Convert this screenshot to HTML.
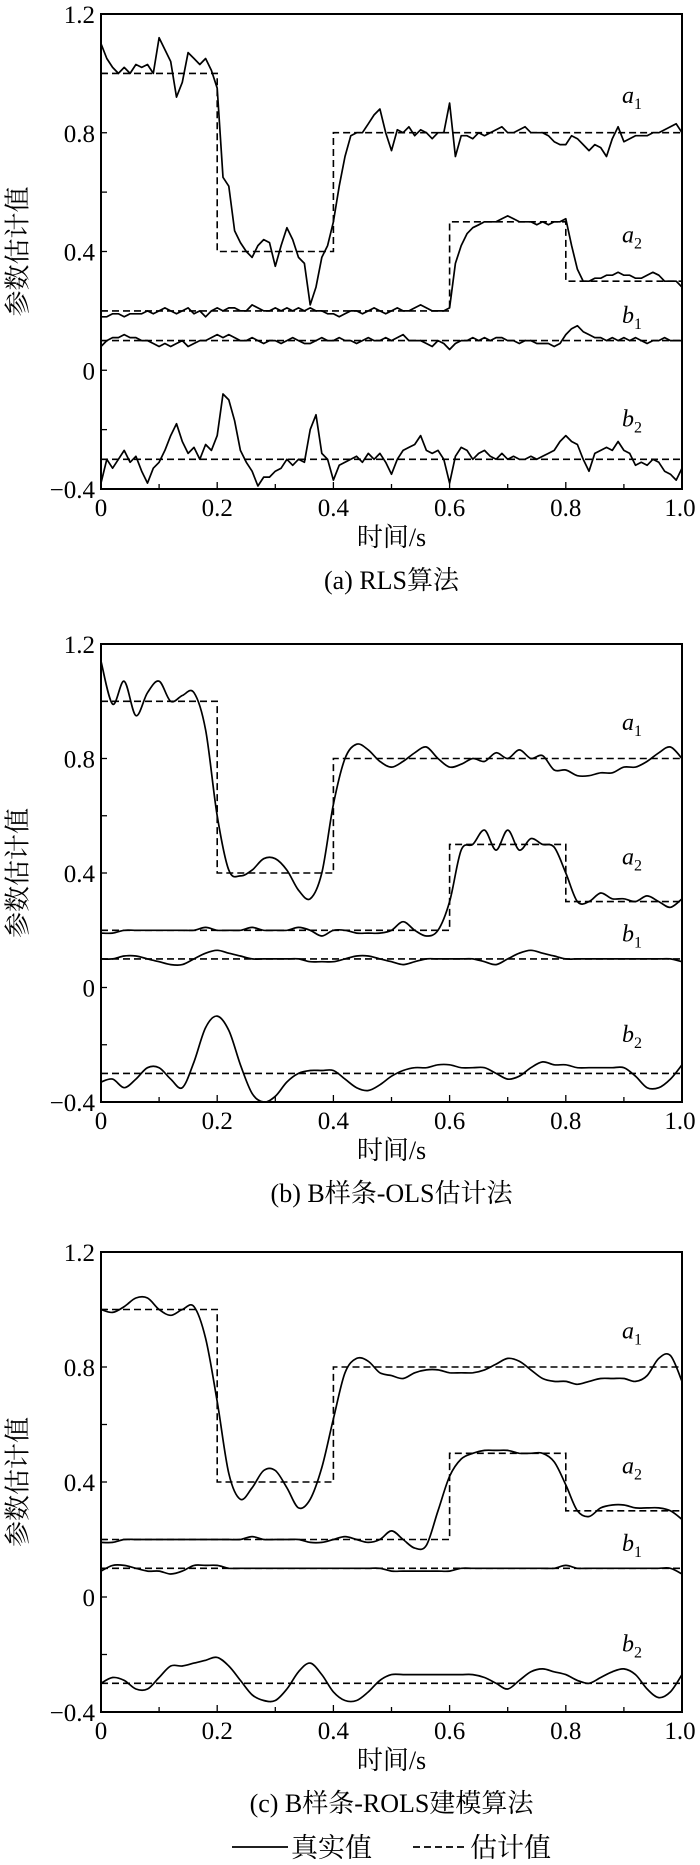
<!DOCTYPE html>
<html><head><meta charset="utf-8"><style>
html,body{margin:0;padding:0;background:#fff;}
svg{display:block;}
text{font-family:"Liberation Serif","Noto Serif CJK SC","Noto Sans CJK SC",serif;fill:#000;}
</style></head><body>
<svg id="chart" width="700" height="1865" viewBox="0 0 700 1865" xmlns="http://www.w3.org/2000/svg"></svg>
<script>
// ---------- data ----------
const xTicks = [0, 0.2, 0.4, 0.6, 0.8, 1.0];
const xTickLabels = ["0", "0.2", "0.4", "0.6", "0.8", "1.0"];
const yTicks = [1.2, 0.8, 0.4, 0, -0.4];
const yTickLabels = ["1.2", "0.8", "0.4", "0", "\u22120.4"];
const captions = ["(a) RLS算法", "(b) B样条-OLS估计法", "(c) B样条-ROLS建模算法"];
const refA1 = [[0,0.2,1.0],[0.2,0.4,0.4],[0.4,1.0,0.8]];
const refA2 = [[0,0.6,0.2],[0.6,0.8,0.5],[0.8,1.0,0.3]];
const refB1 = [[0,1.0,0.1]];
const refB2 = [[0,1.0,-0.3]];
const rlsA1 = [1.10,1.05,1.02,1.00,1.02,1.00,1.03,1.02,1.03,1.00,1.12,1.08,1.04,0.92,0.97,1.07,1.05,1.03,1.05,1.01,0.95,0.65,0.62,0.47,0.43,0.40,0.38,0.42,0.44,0.43,0.35,0.42,0.48,0.44,0.38,0.36,0.22,0.28,0.38,0.42,0.50,0.62,0.72,0.79,0.80,0.80,0.83,0.86,0.88,0.80,0.74,0.81,0.80,0.82,0.79,0.81,0.80,0.78,0.80,0.80,0.90,0.72,0.79,0.79,0.78,0.80,0.79,0.80,0.81,0.82,0.80,0.80,0.81,0.82,0.80,0.80,0.80,0.79,0.77,0.76,0.76,0.79,0.78,0.76,0.74,0.76,0.75,0.72,0.78,0.82,0.77,0.78,0.79,0.79,0.79,0.80,0.80,0.81,0.82,0.83,0.80];
const rlsA2 = [0.18,0.18,0.19,0.19,0.18,0.19,0.19,0.19,0.20,0.19,0.20,0.21,0.20,0.19,0.20,0.21,0.19,0.20,0.18,0.20,0.21,0.20,0.21,0.21,0.20,0.20,0.22,0.21,0.20,0.20,0.21,0.20,0.21,0.20,0.21,0.20,0.21,0.20,0.20,0.19,0.19,0.18,0.19,0.20,0.20,0.19,0.20,0.21,0.20,0.19,0.20,0.21,0.20,0.20,0.21,0.22,0.21,0.20,0.20,0.20,0.21,0.36,0.42,0.46,0.48,0.49,0.50,0.50,0.50,0.51,0.52,0.51,0.50,0.50,0.50,0.49,0.50,0.49,0.50,0.50,0.51,0.42,0.34,0.30,0.30,0.31,0.31,0.32,0.32,0.33,0.32,0.32,0.31,0.31,0.32,0.33,0.32,0.30,0.30,0.30,0.28];
const rlsB1 = [0.08,0.10,0.11,0.11,0.12,0.11,0.11,0.10,0.10,0.09,0.08,0.09,0.08,0.09,0.10,0.08,0.09,0.10,0.10,0.11,0.12,0.11,0.12,0.11,0.10,0.10,0.11,0.10,0.09,0.10,0.10,0.09,0.10,0.11,0.10,0.09,0.09,0.10,0.11,0.10,0.10,0.11,0.10,0.10,0.09,0.10,0.11,0.10,0.10,0.11,0.10,0.11,0.12,0.10,0.10,0.10,0.09,0.08,0.10,0.09,0.07,0.09,0.10,0.10,0.11,0.10,0.11,0.10,0.11,0.11,0.10,0.10,0.09,0.10,0.10,0.09,0.09,0.09,0.08,0.09,0.12,0.14,0.15,0.13,0.12,0.11,0.11,0.10,0.11,0.10,0.11,0.10,0.11,0.10,0.09,0.10,0.10,0.11,0.10,0.10,0.10];
const rlsB2 = [-0.38,-0.30,-0.33,-0.30,-0.27,-0.31,-0.29,-0.34,-0.38,-0.33,-0.31,-0.27,-0.22,-0.18,-0.24,-0.28,-0.26,-0.30,-0.25,-0.27,-0.22,-0.08,-0.10,-0.17,-0.27,-0.31,-0.34,-0.39,-0.36,-0.36,-0.34,-0.33,-0.30,-0.32,-0.30,-0.31,-0.20,-0.15,-0.28,-0.30,-0.37,-0.32,-0.31,-0.30,-0.29,-0.31,-0.28,-0.30,-0.28,-0.31,-0.35,-0.30,-0.27,-0.26,-0.25,-0.22,-0.27,-0.28,-0.27,-0.30,-0.38,-0.29,-0.26,-0.27,-0.30,-0.28,-0.27,-0.29,-0.30,-0.28,-0.30,-0.29,-0.30,-0.30,-0.29,-0.30,-0.29,-0.28,-0.27,-0.24,-0.22,-0.24,-0.25,-0.30,-0.34,-0.28,-0.27,-0.26,-0.27,-0.24,-0.27,-0.28,-0.32,-0.31,-0.32,-0.30,-0.31,-0.34,-0.35,-0.37,-0.33];
const olsA1 = [1.14,0.99,1.07,0.95,1.03,1.07,1.00,1.02,1.03,0.90,0.60,0.41,0.39,0.41,0.45,0.45,0.41,0.34,0.31,0.40,0.64,0.80,0.85,0.83,0.79,0.77,0.79,0.82,0.84,0.80,0.77,0.78,0.80,0.79,0.82,0.80,0.83,0.80,0.81,0.76,0.76,0.74,0.74,0.75,0.75,0.77,0.77,0.79,0.82,0.84,0.80];
const olsA2 = [0.19,0.19,0.20,0.20,0.20,0.20,0.20,0.20,0.20,0.21,0.20,0.20,0.20,0.21,0.20,0.20,0.20,0.21,0.20,0.18,0.20,0.20,0.19,0.19,0.19,0.20,0.23,0.20,0.18,0.20,0.30,0.48,0.50,0.55,0.48,0.55,0.48,0.52,0.50,0.49,0.40,0.30,0.30,0.33,0.31,0.31,0.30,0.32,0.30,0.28,0.31];
const olsB1 = [0.10,0.10,0.11,0.11,0.10,0.09,0.08,0.08,0.10,0.12,0.13,0.12,0.11,0.10,0.10,0.10,0.10,0.10,0.09,0.09,0.09,0.10,0.11,0.11,0.10,0.09,0.08,0.09,0.10,0.10,0.10,0.10,0.10,0.09,0.08,0.10,0.12,0.13,0.12,0.11,0.10,0.10,0.10,0.10,0.10,0.10,0.10,0.10,0.10,0.10,0.09];
const olsB2 = [-0.33,-0.32,-0.35,-0.32,-0.28,-0.28,-0.32,-0.35,-0.26,-0.14,-0.10,-0.15,-0.27,-0.37,-0.40,-0.38,-0.33,-0.30,-0.29,-0.29,-0.29,-0.32,-0.35,-0.36,-0.34,-0.31,-0.29,-0.28,-0.28,-0.27,-0.27,-0.28,-0.28,-0.28,-0.30,-0.32,-0.31,-0.28,-0.26,-0.27,-0.27,-0.28,-0.28,-0.28,-0.28,-0.28,-0.31,-0.35,-0.35,-0.32,-0.27];
const rolsA1 = [1.00,0.99,1.01,1.04,1.04,1.00,0.98,1.00,1.01,0.90,0.68,0.43,0.34,0.38,0.44,0.44,0.38,0.31,0.34,0.45,0.62,0.78,0.83,0.82,0.78,0.77,0.76,0.78,0.79,0.79,0.78,0.78,0.78,0.79,0.81,0.83,0.82,0.79,0.76,0.75,0.75,0.74,0.75,0.76,0.76,0.76,0.75,0.77,0.83,0.84,0.75];
const rolsA2 = [0.19,0.19,0.20,0.20,0.20,0.20,0.20,0.20,0.20,0.20,0.20,0.20,0.20,0.21,0.20,0.20,0.20,0.20,0.19,0.19,0.20,0.21,0.20,0.19,0.20,0.23,0.20,0.17,0.18,0.30,0.42,0.48,0.50,0.51,0.51,0.51,0.50,0.50,0.50,0.47,0.39,0.30,0.28,0.31,0.32,0.32,0.31,0.31,0.31,0.30,0.27];
const rolsB1 = [0.09,0.11,0.11,0.10,0.09,0.09,0.08,0.09,0.11,0.11,0.11,0.10,0.10,0.10,0.10,0.10,0.10,0.10,0.10,0.10,0.10,0.10,0.10,0.10,0.10,0.09,0.09,0.09,0.09,0.09,0.09,0.10,0.10,0.10,0.10,0.10,0.10,0.10,0.10,0.10,0.11,0.10,0.10,0.10,0.10,0.10,0.10,0.10,0.10,0.10,0.08];
const rolsB2 = [-0.30,-0.28,-0.29,-0.32,-0.32,-0.28,-0.24,-0.24,-0.23,-0.22,-0.21,-0.24,-0.29,-0.34,-0.36,-0.36,-0.32,-0.26,-0.23,-0.27,-0.33,-0.36,-0.36,-0.33,-0.29,-0.27,-0.27,-0.27,-0.27,-0.27,-0.27,-0.27,-0.27,-0.28,-0.30,-0.32,-0.29,-0.26,-0.25,-0.26,-0.27,-0.29,-0.30,-0.28,-0.26,-0.25,-0.27,-0.32,-0.35,-0.33,-0.27];

// ---------- drawing ----------
const NS = "http://www.w3.org/2000/svg";
const svg = document.getElementById("chart");
function mk(tag, attrs, parent) {
  const e = document.createElementNS(NS, tag);
  for (const k in attrs) e.setAttribute(k, attrs[k]);
  (parent || svg).appendChild(e);
  return e;
}
const L = 101, R = 682;
const panels = [
  {id:"a", T:14, B:489, series:[rlsA1, rlsA2, rlsB1, rlsB2], smooth:false},
  {id:"b", T:644, B:1102, series:[olsA1, olsA2, olsB1, olsB2], smooth:true},
  {id:"c", T:1252, B:1712, series:[rolsA1, rolsA2, rolsB1, rolsB2], smooth:true}
];
const refs = [refA1, refA2, refB1, refB2];
const seriesNames = ["a1", "a2", "b1", "b2"];
const labelVals = [0.9, 0.43, 0.16, -0.19];

panels.forEach((p, pi) => {
  const g = mk("g", {});
  
  
  const xS = t => L + t * (R - L);
  const yS = v => p.T + (1.2 - v) / 1.6 * (p.B - p.T);
  const clipId = "clip" + p.id;
  const cp = mk("clipPath", {id: clipId}, g);
  mk("rect", {x: L, y: p.T, width: R - L, height: p.B - p.T}, cp);
  for (let k = 0; k <= 10; k++) {
    const t = k / 10;
    const tk = mk("line", {x1: xS(t), x2: xS(t), y1: p.B, y2: p.B - (k % 2 === 0 ? 7 : 5), stroke: "#000", "stroke-width": 1.3}, g);
    
    
  }
  for (let k = 0; k <= 8; k++) {
    const v = -0.4 + k * 0.2;
    const tk = mk("line", {x1: L, x2: L + 6, y1: yS(v), y2: yS(v), stroke: "#000", "stroke-width": 1.3}, g);
    
    
  }
  xTicks.forEach((t, i) => {
    const tx = mk("text", {x: xS(t) + (i === xTicks.length - 1 ? -2 : 0), y: p.B + 27, "font-size": 25, "text-anchor": "middle"}, g);
    tx.textContent = xTickLabels[i];
    
    
  });
  yTicks.forEach((v, i) => {
    const tx = mk("text", {x: 95, y: yS(v) + 9, "font-size": 25, "text-anchor": "end"}, g);
    tx.textContent = yTickLabels[i];
    
    
  });
  refs.forEach((ref, si) => {
    let d = "";
    ref.forEach((s, j) => {
      d += (j === 0 ? "M" : "L") + xS(s[0]).toFixed(1) + "," + yS(s[2]).toFixed(1) + "L" + xS(s[1]).toFixed(1) + "," + yS(s[2]).toFixed(1);
    });
    const pa = mk("path", {d: d, fill: "none", stroke: "#000", "stroke-width": 1.6, "stroke-dasharray": "7,4", "clip-path": "url(#" + clipId + ")"}, g);
    
    
  });
  p.series.forEach((arr, si) => {
    const n = arr.length;
    const pts = arr.map((v, i) => [xS(i / (n - 1)), yS(v)]);
    let d = "M" + pts[0][0].toFixed(1) + "," + pts[0][1].toFixed(1);
    if (!p.smooth) {
      for (let i = 1; i < n; i++) {
        d += "L" + pts[i][0].toFixed(1) + "," + pts[i][1].toFixed(1);
      }
    } else {
      for (let i = 0; i < n - 1; i++) {
        const p0 = pts[Math.max(0, i - 1)], p1 = pts[i], p2 = pts[i + 1], p3 = pts[Math.min(n - 1, i + 2)];
        const c1x = p1[0] + (p2[0] - p0[0]) / 6, c1y = p1[1] + (p2[1] - p0[1]) / 6;
        const c2x = p2[0] - (p3[0] - p1[0]) / 6, c2y = p2[1] - (p3[1] - p1[1]) / 6;
        d += "C" + c1x.toFixed(1) + "," + c1y.toFixed(1) + " " + c2x.toFixed(1) + "," + c2y.toFixed(1) + " " + p2[0].toFixed(1) + "," + p2[1].toFixed(1);
      }
    }
    const pa = mk("path", {d: d, fill: "none", stroke: "#000", "stroke-width": 1.7, "stroke-linejoin": "round", "clip-path": "url(#" + clipId + ")"}, g);
    
    
  });
  seriesNames.forEach((nm, si) => {
    const tx = mk("text", {x: 622, y: yS(labelVals[si]), "font-size": 24, "font-style": "italic"}, g);
    tx.textContent = nm[0];
    const sub = mk("tspan", {dy: 6, "font-size": 16, "font-style": "normal"}, tx);
    sub.textContent = nm[1];
    
    
  });
  const fr = mk("rect", {x: L, y: p.T, width: R - L, height: p.B - p.T, fill: "none", stroke: "#000", "stroke-width": 2}, g);
  
  
  const cy = (p.T + p.B) / 2;
  const yt = mk("text", {x: 0, y: 0, "font-size": 26, "text-anchor": "middle", transform: "translate(18," + cy + ") rotate(-90)", "dominant-baseline": "central"}, g);
  yt.textContent = "参数估计值";
  
  
  const xt = mk("text", {x: (L + R) / 2, y: p.B + 57, "font-size": 26, "text-anchor": "middle"}, g);
  xt.textContent = "时间/s";
  
  
  const cap = mk("text", {x: (L + R) / 2, y: p.B + 100, "font-size": 26, "text-anchor": "middle"}, g);
  cap.textContent = captions[pi];
  
  
});

const lg = mk("g", {});


const l1 = mk("line", {x1: 232, x2: 288, y1: 1847, y2: 1847, stroke: "#000", "stroke-width": 1.7}, lg);


const t1 = mk("text", {x: 291, y: 1857, "font-size": 27}, lg);
t1.textContent = "真实值";


const l2 = mk("line", {x1: 413, x2: 466, y1: 1847, y2: 1847, stroke: "#000", "stroke-width": 1.7, "stroke-dasharray": "7,4"}, lg);


const t2 = mk("text", {x: 470, y: 1857, "font-size": 27}, lg);
t2.textContent = "估计值";


</script>
</body></html>
